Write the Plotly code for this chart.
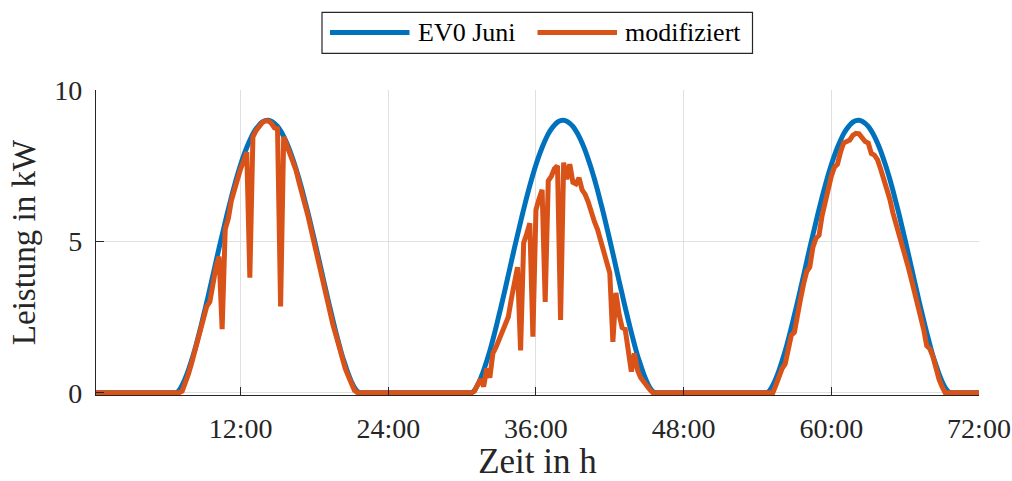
import numpy as np
import plotly.graph_objects as go

# 15-minute resolution over three days (hours 0.25 ... 72)
zeit_h = np.arange(1, 289) * 0.25

# Night hours: 00:15-06:45 (27 slots) and 21:45-24:00 (10 slots) produce nothing
nacht_vor = [0.0] * 27
nacht_nach = [0.0] * 10

# EV0 June profile in kW, daytime slots 07:00 ... 21:30
ev0_juni_tag = [
    0.08, 0.25, 0.47, 0.74, 1.05, 1.38, 1.75, 2.15, 2.57, 2.99, 3.43, 3.88,
    4.33, 4.78, 5.21, 5.64, 6.06, 6.46, 6.84, 7.20, 7.53, 7.83, 8.10, 8.34,
    8.55, 8.71, 8.84, 8.94, 8.99, 9.00, 8.97, 8.90, 8.80, 8.65, 8.47, 8.25,
    8.00, 7.71, 7.40, 7.06, 6.69, 6.30, 5.90, 5.47, 5.04, 4.60, 4.15, 3.70,
    3.26, 2.82, 2.40, 1.99, 1.60, 1.23, 0.92, 0.62, 0.37, 0.17, 0.04,
]

# Modified profile in kW, daytime slots 07:00 ... 21:30, one list per day
mod_tag1 = [
    0.00, 0.05, 0.30, 0.60, 0.95, 1.30, 1.65, 2.05, 2.45, 2.85, 3.00, 3.70,
    4.15, 4.50, 2.10, 5.40, 5.75, 6.35, 6.75, 7.10, 7.40, 7.65, 7.95, 3.80,
    8.45, 8.65, 8.80, 8.92, 8.98, 8.98, 8.90, 8.75, 8.72, 2.85, 8.45, 8.20,
    7.90, 7.60, 7.35, 6.95, 6.60, 6.20, 5.80, 5.35, 4.90, 4.45, 3.95, 3.60,
    3.15, 2.70, 2.25, 1.90, 1.50, 1.10, 0.80, 0.55, 0.30, 0.08, 0.00,
]
mod_tag2 = [
    0.05, 0.25, 0.45, 0.20, 0.80, 0.50, 1.30, 1.50, 1.75, 2.05, 2.25, 2.50,
    3.10, 3.65, 4.15, 1.40, 4.95, 5.25, 5.60, 1.85, 6.05, 6.40, 6.70, 3.00,
    7.00, 7.15, 7.40, 7.50, 2.40, 7.60, 7.05, 7.55, 6.95, 6.90, 7.10, 6.70,
    6.55, 6.30, 5.95, 5.65, 5.40, 5.05, 4.60, 4.30, 3.95, 1.68, 3.30, 2.60,
    2.15, 2.10, 1.50, 0.70, 1.30, 0.75, 0.50, 0.35, 0.25, 0.10, 0.00,
]
mod_tag3 = [
    0.00, 0.00, 0.25, 0.55, 0.80, 0.95, 1.50, 1.90, 2.00, 2.65, 3.10, 3.60,
    4.00, 4.15, 4.80, 5.10, 5.20, 5.85, 6.35, 6.75, 7.15, 7.45, 7.55, 7.95,
    8.25, 8.30, 8.35, 8.50, 8.57, 8.55, 8.40, 8.30, 8.25, 7.90, 7.85, 7.70,
    7.40, 7.10, 6.75, 6.40, 5.95, 5.60, 5.20, 4.90, 4.60, 4.15, 3.75, 3.35,
    2.95, 2.60, 2.10, 1.55, 1.45, 1.20, 0.80, 0.45, 0.20, 0.00, 0.00,
]

x_tickvals = [12, 24, 36, 48, 60, 72]
x_ticktext = ["12:00", "24:00", "36:00", "48:00", "60:00", "72:00"]
y_tickvals = [0, 5, 10]
y_ticktext = ["0", "5", "10"]

serie_namen = ["EV0 Juni", "modifiziert"]
farben = ["#0072BD", "#D95319"]

ev0 = (nacht_vor + ev0_juni_tag + nacht_nach) * 3
modifiziert = []
for tag in (mod_tag1, mod_tag2, mod_tag3):
    modifiziert += nacht_vor + tag + nacht_nach

# Figure geometry in pixels
W, H = 1012, 481
ML, MR, MT, MB = 96, 33, 90, 86
PW, PH = W - ML - MR, H - MT - MB
TEXT = "#262626"
FONT = "Liberation Serif"
LW = 5


def px_x(px):
    return (px - ML) / PW


def px_y(py):
    return (H - MB - py) / PH


fig = go.Figure()
fig.add_trace(go.Scatter(
    x=zeit_h, y=ev0, mode="lines", name=serie_namen[0],
    line=dict(color=farben[0], width=LW, shape="spline", smoothing=0.6),
))
fig.add_trace(go.Scatter(
    x=zeit_h, y=modifiziert, mode="lines", name=serie_namen[1],
    line=dict(color=farben[1], width=LW),
))

axis_common = dict(
    showline=True, linecolor=TEXT, linewidth=1.3, mirror=False,
    ticks="inside", ticklen=8, tickwidth=1.3, tickcolor=TEXT,
    showgrid=True, gridcolor="#e0e0e0", gridwidth=1,
    zeroline=False, tickfont=dict(family=FONT, size=28, color=TEXT),
)

fig.update_layout(
    width=W, height=H,
    margin=dict(l=ML, r=MR, t=MT, b=MB, autoexpand=False),
    paper_bgcolor="white", plot_bgcolor="white",
    font=dict(family=FONT, color=TEXT),
    showlegend=False,
    xaxis=dict(
        range=[0.25, 72], tickmode="array",
        tickvals=x_tickvals, ticktext=x_ticktext, ticklabelstandoff=8,
        title=dict(text="Zeit in h", font=dict(family=FONT, size=35, color=TEXT), standoff=11),
        **axis_common,
    ),
    yaxis=dict(
        range=[-0.075, 10], tickmode="array",
        tickvals=y_tickvals, ticktext=y_ticktext, ticklabelstandoff=7,
        title=dict(text="Leistung in kW", font=dict(family=FONT, size=33, color=TEXT), standoff=8),
        **axis_common,
    ),
)

# Legend box above the plot with long line samples
fig.add_shape(type="rect", xref="paper", yref="paper",
              x0=px_x(322), x1=px_x(752.5), y0=px_y(53.3), y1=px_y(12.3),
              line=dict(color=TEXT, width=1.2), fillcolor="white", layer="above")
leg_y = px_y(32.5)
for (x0, x1, tx), name, farbe in zip([(330, 409.5, 416), (537.5, 617, 623)], serie_namen, farben):
    fig.add_shape(type="line", xref="paper", yref="paper",
                  x0=px_x(x0), x1=px_x(x1), y0=leg_y, y1=leg_y,
                  line=dict(color=farbe, width=LW), layer="above")
    fig.add_annotation(xref="paper", yref="paper", x=px_x(tx), y=leg_y,
                       text=name, showarrow=False, xanchor="left", yanchor="middle",
                       font=dict(family=FONT, size=26, color="black"))

fig.write_html("out.html")
